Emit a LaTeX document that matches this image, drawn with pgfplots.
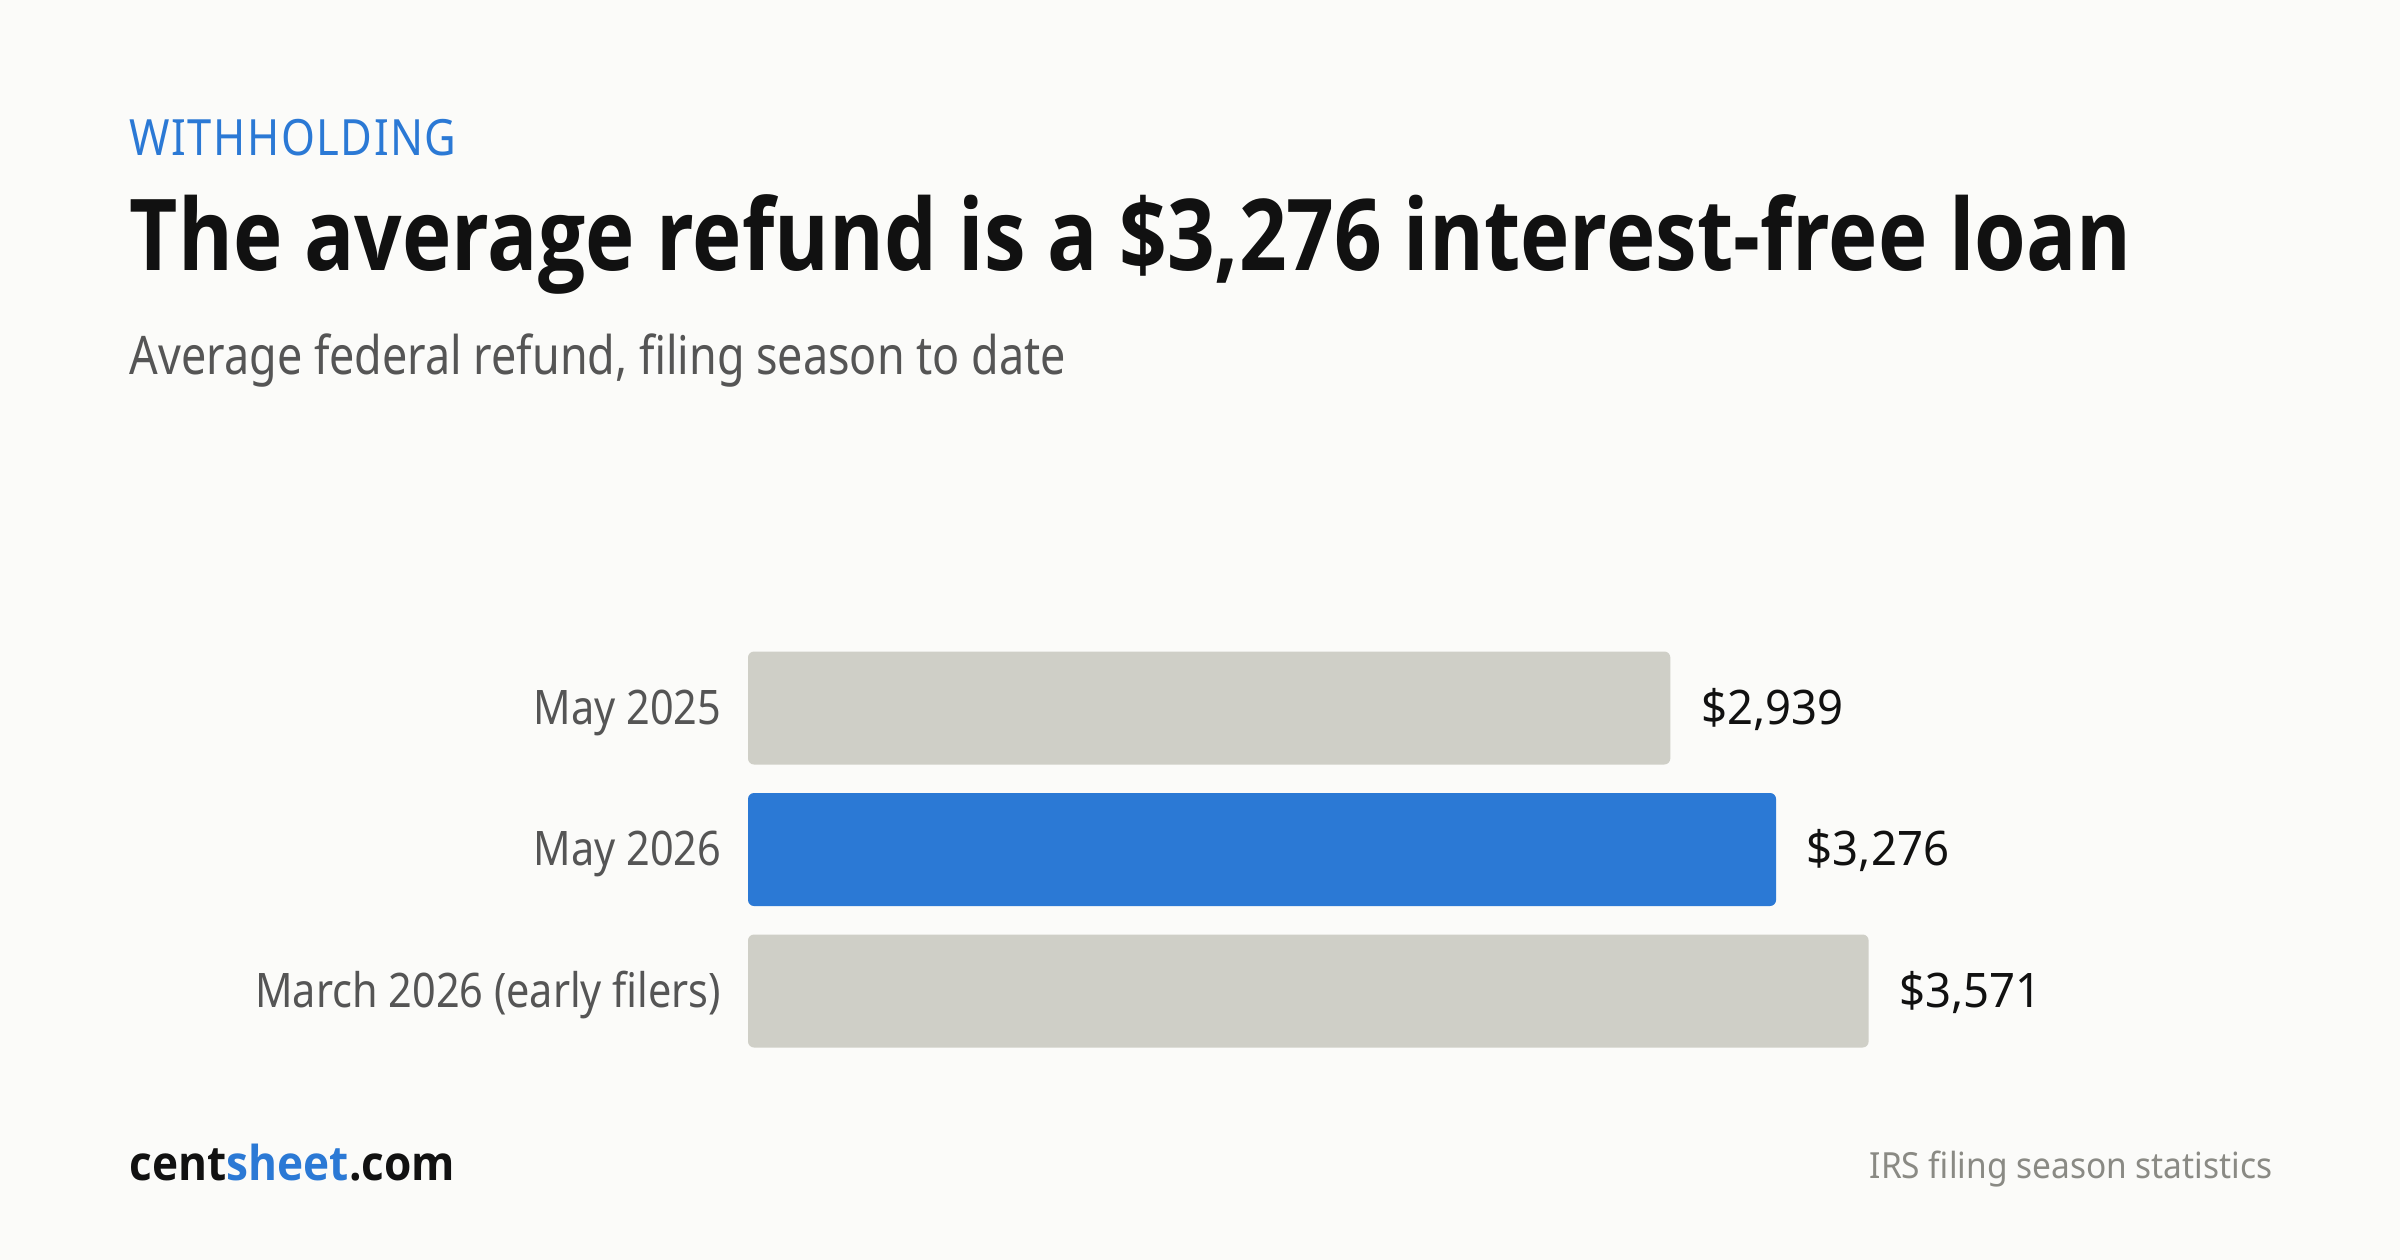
\documentclass[border=0pt]{standalone}
\usepackage{fontspec}
\usepackage{pgfplots}
\pgfplotsset{compat=1.18}
\setmainfont{Noto Sans}
\newfontfamily\subf[FakeStretch=0.844]{Noto Sans}
\newfontfamily\catf[FakeStretch=0.87]{Noto Sans}
\newfontfamily\valf[FakeStretch=0.955]{Noto Sans}
\newfontfamily\kickf[LetterSpace=3,FakeStretch=0.87]{Noto Sans}
\newfontfamily\srcf[FakeStretch=0.93]{Noto Sans}
\newfontfamily\titlef[FakeStretch=0.842]{Open Sans}
\newfontfamily\footf[FakeStretch=0.92]{Open Sans}
\definecolor{bgcol}{HTML}{FBFBF9}
\definecolor{barGray}{HTML}{CFCFC7}
\definecolor{barBlue}{HTML}{2B79D5}
\definecolor{titleCol}{HTML}{111111}
\definecolor{subCol}{HTML}{555555}
\definecolor{srcCol}{HTML}{8A8A84}
\begin{document}
\begin{tikzpicture}[x=0.25pt,y=-0.25pt]
\fill[bgcol] (0,0) rectangle (2400,1260);
% header
\node[anchor=base west, inner sep=0pt, text=barBlue] at (129,156)
  {\kickf\fontsize{12.5}{15}\selectfont WITHHOLDING};
\node[anchor=base west, inner sep=0pt, text=titleCol] at (129,271)
  {\titlef\bfseries\fontsize{24.8}{30}\selectfont The average refund is a \$3,276 interest-free loan};
\node[anchor=base west, inner sep=0pt, text=subCol] at (129,375)
  {\subf\fontsize{13.3}{16}\selectfont Average federal refund, filing season to date};
% footer
\node[anchor=base west, inner sep=0pt, text=titleCol] at (129,1180)
  {\footf\bfseries\fontsize{12}{15}\selectfont cent\textcolor{barBlue}{sheet}.com};
\node[anchor=base east, inner sep=0pt, text=srcCol] at (2273,1178)
  {\srcf\fontsize{9}{11}\selectfont IRS filing season statistics};
% chart
\begin{axis}[
  at={(187pt,-265.4375pt)}, anchor=south west,
  scale only axis, width=375pt, height=106.125pt,
  xmin=0, xmax=4780, ymin=-0.5, ymax=2.5, y dir=reverse,
  xtick=\empty, ytick={0,1,2},
  yticklabels={May 2025, May 2026, March 2026 (early filers)},
  axis line style={draw=none}, major tick length=0pt,
  yticklabel style={font=\catf\fontsize{11.9}{14}\selectfont, text=subCol,
    anchor=base east, inner sep=0pt, xshift=-6.5pt, yshift=-4pt},
  clip=false,
  point meta=explicit symbolic,
  nodes near coords,
  every node near coord/.append style={font=\valf\fontsize{11.9}{14}\selectfont,
    text=titleCol, anchor=base west, inner sep=0pt, xshift=7.5pt, yshift=-4pt},
]
\addplot[xbar, bar width=28.25pt, bar shift=0pt, fill=barGray, draw=none, rounded corners=1.5pt]
  coordinates {(2939,0) [\$2,939] (3571,2) [\$3,571]};
\addplot[xbar, bar width=28.25pt, bar shift=0pt, fill=barBlue, draw=none, rounded corners=1.5pt]
  coordinates {(3276,1) [\$3,276]};
\end{axis}
\end{tikzpicture}
\end{document}
